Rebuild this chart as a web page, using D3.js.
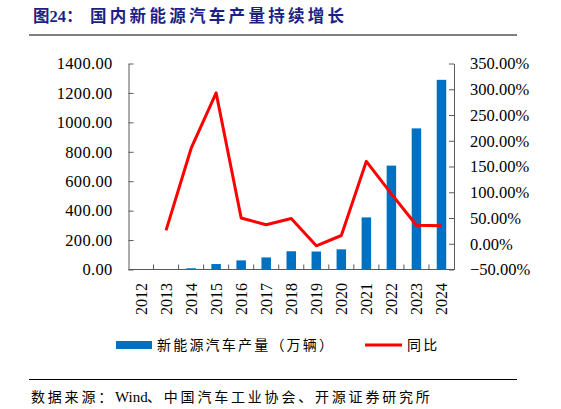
<!DOCTYPE html>
<html>
<head>
<meta charset="utf-8">
<script src="https://cdn.jsdelivr.net/npm/d3@7"></script>
<style>
  body { margin: 0; background: #fff; }
  svg { display: block; }
</style>
</head>
<body>
<svg id="chart" width="561" height="409"></svg>
<script>
// Data
const years = ['2012', '2013', '2014', '2015', '2016', '2017', '2018', '2019', '2020', '2021', '2022', '2023', '2024'];
const output = [1.3, 1.8, 8.4, 37, 62, 82, 124, 122, 137, 354, 706, 959, 1289]; // 万辆
const yoy = [null, 26, 185, 293, 50, 37, 49, -4, 16, 160, 97, 36, 35]; // %
const leftTicks = [0, 200, 400, 600, 800, 1000, 1200, 1400];
const rightTicks = [-50, 0, 50, 100, 150, 200, 250, 300, 350];

const serif = '"Liberation Serif", "Noto Sans CJK SC", serif';
const cjk = '"Liberation Serif", "Noto Sans CJK SC", sans-serif';

const svg = d3.select('#chart');
const margin = { top: 63.5, left: 128.5, right: 454, bottom: 269.5 };

const x = d3.scaleBand().domain(years).range([margin.left, margin.right]).paddingInner(0).paddingOuter(0);
const yL = d3.scaleLinear().domain([0, 1400]).range([margin.bottom, margin.top]);
const yR = d3.scaleLinear().domain([-50, 350]).range([margin.bottom, margin.top]);

// Title
const title = svg.append('text')
    .attr('y', 22)
    .attr('fill', '#1c1f86')
    .attr('font-family', cjk)
    .attr('font-weight', 'bold')
    .attr('font-size', 16.5);
title.append('tspan').attr('x', 33).text('图24：');
title.append('tspan').attr('x', 90).attr('letter-spacing', 3.3).text('国内新能源汽车产量持续增长');

svg.append('line')
    .attr('x1', 29).attr('x2', 517).attr('y1', 35).attr('y2', 35)
    .attr('stroke', '#000').attr('stroke-width', 1);

// Bars
const barW = 9.5;
svg.append('g').selectAll('rect')
    .data(years.map((d, i) => ({ year: d, v: output[i] })))
    .join('rect')
    .attr('x', d => x(d.year) + x.bandwidth() / 2 - barW / 2)
    .attr('y', d => yL(d.v))
    .attr('width', barW)
    .attr('height', d => yL(0) - yL(d.v))
    .attr('fill', '#0070c0');

// Line
const line = d3.line()
    .defined(d => d.v !== null)
    .x(d => x(d.year) + x.bandwidth() / 2)
    .y(d => yR(d.v));

svg.append('path')
    .datum(years.map((d, i) => ({ year: d, v: yoy[i] })))
    .attr('fill', 'none')
    .attr('stroke', '#ff0000')
    .attr('stroke-width', 3)
    .attr('stroke-linejoin', 'round')
    .attr('d', line);

// Left axis
const axisColor = '#595959';
const gL = svg.append('g')
    .attr('transform', `translate(${margin.left},0)`)
    .call(d3.axisLeft(yL).tickValues(leftTicks).tickSizeInner(-5).tickSizeOuter(0).tickPadding(16)
        .tickFormat(d => d3.format('.2f')(d)));
gL.select('.domain').attr('stroke', axisColor);
gL.selectAll('line').attr('stroke', axisColor);
gL.selectAll('text')
    .attr('font-family', serif)
    .attr('font-size', 16.5)
    .attr('letter-spacing', 0.3)
    .attr('fill', '#000');

// Right axis
const gR = svg.append('g')
    .attr('transform', `translate(${margin.right},0)`)
    .call(d3.axisRight(yR).tickValues(rightTicks).tickSizeInner(-5).tickSizeOuter(0).tickPadding(16)
        .tickFormat(d => d3.format('.2f')(d) + '%'));
gR.select('.domain').attr('stroke', axisColor);
gR.selectAll('line').attr('stroke', axisColor);
gR.selectAll('text')
    .attr('font-family', serif)
    .attr('font-size', 16.5)
    .attr('fill', '#000');

// X axis: ticks between categories
const gX = svg.append('g')
    .attr('transform', `translate(0,${margin.bottom})`);
gX.append('line')
    .attr('x1', margin.left).attr('x2', margin.right)
    .attr('stroke', axisColor);
gX.selectAll('.tick')
    .data(years.slice(1))
    .join('line')
    .attr('x1', d => x(d)).attr('x2', d => x(d))
    .attr('y1', 0).attr('y2', -5)
    .attr('stroke', axisColor);
gX.selectAll('text')
    .data(years)
    .join('text')
    .attr('transform', d => `translate(${x(d) + x.bandwidth() / 2 + 5.5},13.5) rotate(-90)`)
    .attr('text-anchor', 'end')
    .attr('font-family', serif)
    .attr('font-size', 16)
    .text(d => d);

// Legend
const legend = svg.append('g');
legend.append('rect')
    .attr('x', 116).attr('y', 341).attr('width', 36).attr('height', 8)
    .attr('fill', '#0070c0');
legend.append('text')
    .attr('x', 157).attr('y', 350)
    .attr('font-family', cjk).attr('font-size', 14)
    .attr('letter-spacing', 2.2)
    .text('新能源汽车产量（万辆）');
legend.append('line')
    .attr('x1', 365).attr('x2', 402).attr('y1', 345).attr('y2', 345)
    .attr('stroke', '#ff0000').attr('stroke-width', 3);
legend.append('text')
    .attr('x', 407).attr('y', 350)
    .attr('font-family', cjk).attr('font-size', 14)
    .attr('letter-spacing', 2.2)
    .text('同比');

// Source
svg.append('line')
    .attr('x1', 29).attr('x2', 517).attr('y1', 379.5).attr('y2', 379.5)
    .attr('stroke', '#000').attr('stroke-width', 1);
const src = svg.append('text')
    .attr('y', 402)
    .attr('font-family', cjk).attr('font-size', 14);
src.append('tspan').attr('x', 31).attr('letter-spacing', 2.8).text('数据来源：');
src.append('tspan').attr('x', 115).attr('font-size', 15).text('Wind');
src.append('tspan').attr('x', 147).attr('letter-spacing', 2.8).text('、中国汽车工业协会、开源证券研究所');
</script>
</body>
</html>
